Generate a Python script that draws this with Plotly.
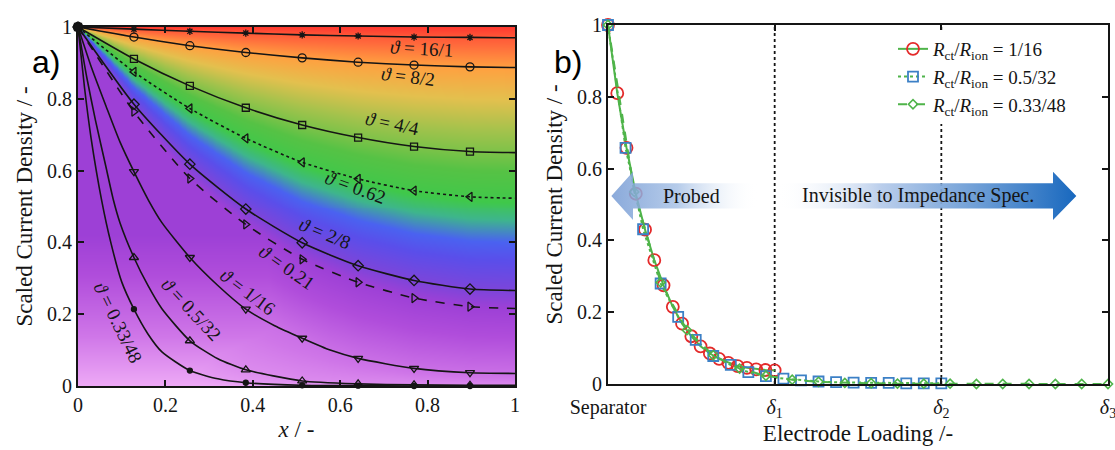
import numpy as np
import plotly.graph_objects as go

# ---------------- panel a: scaled current density vs x ----------------
marker_x = [0.0, 0.128, 0.256, 0.384, 0.513, 0.641, 0.769, 0.897]

x_flat = [0.0, 0.128, 0.256, 0.384, 0.513, 0.641, 0.769, 0.897, 1.0]
y_16_1 = [1.0, 0.994, 0.988, 0.983, 0.978, 0.975, 0.972, 0.971, 0.970]
y_8_2 = [1.0, 0.972, 0.948, 0.929, 0.914, 0.902, 0.894, 0.889, 0.887]
y_4_4 = [1.0, 0.911, 0.836, 0.775, 0.727, 0.692, 0.667, 0.653, 0.650]
y_062 = [1.0, 0.875, 0.773, 0.690, 0.623, 0.577, 0.544, 0.527, 0.523]
y_2_8 = [1.0, 0.785, 0.618, 0.493, 0.399, 0.335, 0.294, 0.270, 0.266]
y_021 = [1.0, 0.764, 0.578, 0.450, 0.353, 0.289, 0.245, 0.221, 0.216]

x_1_16 = [0.0, 0.03, 0.064, 0.096, 0.128, 0.161, 0.192, 0.256, 0.32, 0.384,
          0.45, 0.513, 0.577, 0.641, 0.769, 0.897, 1.0]
y_1_16 = [1.0, 0.89, 0.78, 0.68, 0.597, 0.518, 0.455, 0.358, 0.28, 0.214,
          0.168, 0.133, 0.100, 0.077, 0.049, 0.037, 0.035]

x_05_32 = [0.0, 0.02, 0.04, 0.064, 0.081, 0.096, 0.128, 0.16, 0.192, 0.256,
           0.32, 0.384, 0.513, 0.641, 0.769, 0.897, 1.0]
y_05_32 = [1.0, 0.86, 0.74, 0.61, 0.518, 0.455, 0.358, 0.28, 0.215, 0.126,
           0.076, 0.045, 0.014, 0.006, 0.003, 0.002, 0.002]

x_033_48 = [0.0, 0.015, 0.03, 0.054, 0.075, 0.1, 0.128, 0.16, 0.192, 0.256,
            0.32, 0.384, 0.513, 0.641, 0.769, 0.897, 1.0]
y_033_48 = [1.0, 0.83, 0.69, 0.518, 0.40, 0.29, 0.214, 0.145, 0.095, 0.043,
            0.02, 0.009, 0.002, 0.001, 0.0, 0.0, 0.0]

labels_a = ["16/1", "8/2", "4/4", "0.62", "2/8", "0.21", "1/16", "0.5/32", "0.33/48"]
tick_vals_a = [0, 0.2, 0.4, 0.6, 0.8, 1]
tick_text_a = ["0", "0.2", "0.4", "0.6", "0.8", "1"]

# ---------------- panel b: profiles vs electrode loading ----------------
xb_1_16 = [i / 18 for i in range(19)]
yb_1_16 = [1.0, 0.81, 0.658, 0.53, 0.43, 0.345, 0.275, 0.215, 0.168, 0.133,
           0.105, 0.085, 0.070, 0.059, 0.050, 0.045, 0.041, 0.039, 0.038]
xb_05_32 = [2 * k / 19 for k in range(20)]
yb_05_32 = [1.0, 0.658, 0.431, 0.280, 0.187, 0.123, 0.078, 0.053, 0.033, 0.022,
            0.015, 0.010, 0.007, 0.005, 0.004, 0.003, 0.003, 0.002, 0.002, 0.002]
xb_033_48 = [3 * k / 19 for k in range(20)]
yb_033_48 = [1.0, 0.535, 0.283, 0.150, 0.080, 0.043, 0.023, 0.012, 0.006, 0.003,
             0.002, 0.001, 0.001, 0.001, 0.0, 0.0, 0.0, 0.0, 0.0, 0.0]
legend_b = ["1/16", "0.5/32", "0.33/48"]
tick_vals_b = [0, 1, 2, 3]
tick_text_b = ["Separator", "<i>δ</i><sub>1</sub>", "<i>δ</i><sub>2</sub>", "<i>δ</i><sub>3</sub>"]

SERIF = "Liberation Serif"
INK = "#151515"
GREEN = "#4fb44a"

# style of each panel-a curve: (x, y, dash, symbol, size, label x, label y, angle, colour level)
curves = [
    (x_flat, y_16_1, "solid", "asterisk-open", 6, 0.785, 0.941, 3, 0.96),
    (x_flat, y_8_2, "solid", "circle-open", 8, 0.755, 0.862, 7, 0.88),
    (x_flat, y_4_4, "solid", "square-open", 7, 0.719, 0.730, 12, 0.72),
    (x_flat, y_062, "dot", "triangle-left-open", 8, 0.636, 0.554, 20, 0.62),
    (x_flat, y_2_8, "solid", "diamond-open", 8, 0.566, 0.425, 22, 0.37),
    (x_flat, y_021, "dash", "triangle-right-open", 8, 0.478, 0.329, 35, 0.30),
    (x_1_16, y_1_16, "solid", "triangle-down-open", 8, 0.387, 0.262, 37, 0.12),
    (x_05_32, y_05_32, "solid", "triangle-up-open", 8, 0.259, 0.212, 47, 0.06),
    (x_033_48, y_033_48, "solid", "circle", 5, 0.092, 0.178, 64, 0.03),
]

fig = go.Figure()

# background colour field following the family of curves
gx = np.linspace(0, 1, 181)
gy = np.linspace(0, 1, 181)
Z = np.zeros((gy.size, gx.size))
stack = sorted(curves, key=lambda c: c[8])
levels = [0.0] + [c[8] for c in stack] + [1.0]
for j, xv in enumerate(gx):
    ys = [0.0] + [float(np.interp(xv, c[0], c[1])) for c in stack] + [1.0]
    ys = np.maximum.accumulate(np.array(ys)) + np.arange(len(ys)) * 1e-6
    Z[:, j] = np.interp(gy, ys, levels)
Z = np.maximum(Z, 0.30 * np.clip(gy / 0.42, 0, 1)[:, None])

scale = [
    [0.00, "#eeaaf6"], [0.10, "#cf76e8"], [0.22, "#b04ddb"], [0.30, "#9d40d6"],
    [0.37, "#7c45da"], [0.45, "#5a4eea"], [0.50, "#4a62f0"], [0.56, "#3eb58c"],
    [0.61, "#3fc84a"], [0.68, "#56c245"], [0.76, "#a2c24c"], [0.82, "#e3c04e"],
    [0.88, "#ffa040"], [0.94, "#ff6a3c"], [1.00, "#ff3a30"],
]
fig.add_trace(go.Heatmap(x=gx, y=gy, z=Z, colorscale=scale, zmin=0, zmax=1,
                         zsmooth="best", showscale=False, hoverinfo="skip",
                         xaxis="x", yaxis="y"))

annotations = []
for (cx, cy, dash, sym, size, lx, ly, ang, _), lab in zip(curves, labels_a):
    fig.add_trace(go.Scatter(x=cx, y=cy, mode="lines", line=dict(color=INK, width=1.6, dash=dash, shape="spline", smoothing=0.6),
                             showlegend=False, hoverinfo="skip", xaxis="x", yaxis="y"))
    lookup = dict(zip(cx, cy))
    mx = [v for v in marker_x if v in lookup]
    my = [lookup[v] for v in mx]
    fig.add_trace(go.Scatter(x=mx, y=my, mode="markers", cliponaxis=False,
                             marker=dict(symbol=sym, size=size, color=INK, line=dict(color=INK, width=1.3)),
                             showlegend=False, hoverinfo="skip", xaxis="x", yaxis="y"))
    annotations.append(dict(x=lx, y=ly, xref="x", yref="y", text="<i>ϑ</i> = " + lab,
                            textangle=ang, showarrow=False, font=dict(family=SERIF, size=19, color=INK)))

# panel b series
leg_name = "<i>R</i><sub>ct</sub>/<i>R</i><sub>ion</sub> = "
fig.add_trace(go.Scatter(x=xb_1_16, y=yb_1_16, mode="lines+markers", name=leg_name + legend_b[0],
                         line=dict(color=GREEN, width=2), cliponaxis=False,
                         marker=dict(symbol="circle-open", size=12, color="#e42a2a", line=dict(width=1.8)),
                         xaxis="x2", yaxis="y2"))
fig.add_trace(go.Scatter(x=xb_05_32, y=yb_05_32, mode="lines+markers", name=leg_name + legend_b[1],
                         line=dict(color=GREEN, width=2, dash="dot"), cliponaxis=False,
                         marker=dict(symbol="square-open", size=10, color="#3c80c6", line=dict(width=1.8)),
                         xaxis="x2", yaxis="y2"))
fig.add_trace(go.Scatter(x=xb_033_48, y=yb_033_48, mode="lines+markers", name=leg_name + legend_b[2],
                         line=dict(color=GREEN, width=2, dash="dash"), cliponaxis=False,
                         marker=dict(symbol="diamond-open", size=7, color=GREEN, line=dict(width=1.6)),
                         xaxis="x2", yaxis="y2"))

# gradient arrows
yc, hs, hh = 0.524, 0.035, 0.067
probed_x = [0.02, 0.15, 0.15, 0.90, 0.90, 0.15, 0.15, 0.02]
probed_y = [yc, yc + hh, yc + hs, yc + hs, yc - hs, yc - hs, yc - hh, yc]
fig.add_trace(go.Scatter(x=probed_x, y=probed_y, mode="lines", fill="toself", line=dict(width=0),
                         fillgradient=dict(type="horizontal", colorscale=[
                             [0, "rgba(118,155,212,0.85)"], [0.45, "rgba(168,194,230,0.85)"], [1, "rgba(255,255,255,0)"]]),
                         showlegend=False, hoverinfo="skip", xaxis="x2", yaxis="y2"))
inv_x = [1.01, 2.67, 2.67, 2.81, 2.67, 2.67, 1.01, 1.01]
inv_y = [yc + hs, yc + hs, yc + hh, yc, yc - hh, yc - hs, yc - hs, yc + hs]
fig.add_trace(go.Scatter(x=inv_x, y=inv_y, mode="lines", fill="toself", line=dict(width=0),
                         fillgradient=dict(type="horizontal", colorscale=[
                             [0, "rgba(255,255,255,0)"], [0.35, "rgba(178,200,233,0.9)"], [1, "rgba(24,104,190,1)"]]),
                         showlegend=False, hoverinfo="skip", xaxis="x2", yaxis="y2"))
annotations.append(dict(x=0.50, y=yc, xref="x2", yref="y2", text="Probed", showarrow=False,
                        font=dict(family=SERIF, size=20, color=INK)))
annotations.append(dict(x=1.86, y=yc, xref="x2", yref="y2", text="Invisible to Impedance Spec.", showarrow=False,
                        font=dict(family=SERIF, size=20, color=INK)))

annotations.append(dict(x=30, y=42, xref="paper", yref="paper", text="a)", showarrow=False,
                        font=dict(family="Liberation Sans", size=32, color="black")))
annotations.append(dict(x=568, y=42, xref="paper", yref="paper", text="b)", showarrow=False,
                        font=dict(family="Liberation Sans", size=32, color="black")))
W, H = 1115, 450
for a in annotations:
    if a["xref"] == "paper":
        a["x"] = a["x"] / W
        a["y"] = 1 - a["y"] / H

shapes = [dict(type="line", xref="x2", yref="y2", x0=d, x1=d, y0=0, y1=1, layer="below",
               line=dict(color=INK, width=1.8, dash="dot")) for d in tick_vals_b[1:3]]

axis_common = dict(showline=True, linewidth=2, linecolor=INK, mirror="ticks", ticks="inside",
                   ticklen=6, tickwidth=1.5, tickcolor=INK, showgrid=False, zeroline=False,
                   automargin=False, ticklabeloverflow="allow",
                   tickfont=dict(family=SERIF, size=20, color=INK))
title_font = dict(family=SERIF, size=23, color=INK)

fig.update_layout(
    width=W, height=H, margin=dict(l=0, r=0, t=0, b=0),
    template="none", paper_bgcolor="white", plot_bgcolor="white",
    xaxis=dict(domain=[78 / W, 515 / W], range=[0, 1], tickvals=tick_vals_a, ticktext=tick_text_a,
               title=dict(text="<i>x</i> / -", font=title_font, standoff=6), anchor="y", **axis_common),
    yaxis=dict(domain=[1 - 386 / H, 1 - 27 / H], range=[0, 1], tickvals=tick_vals_a, ticktext=tick_text_a,
               title=dict(text="Scaled Current Density / -", font=title_font, standoff=8), anchor="x", **axis_common),
    xaxis2=dict(domain=[608 / W, 1108 / W], range=[0, 3], tickvals=tick_vals_b, ticktext=tick_text_b,
                ticklabelstandoff=4,
                title=dict(text="Electrode Loading /-", font=title_font, standoff=5), anchor="y2", **axis_common),
    yaxis2=dict(domain=[1 - 384 / H, 1 - 25 / H], range=[0, 1], tickvals=tick_vals_a, ticktext=tick_text_a,
                title=dict(text="Scaled Current Density / -", font=title_font, standoff=8), anchor="x2", **axis_common),
    legend=dict(x=893 / W, y=1 - 30 / H, xanchor="left", yanchor="top", bgcolor="white", borderwidth=0,
                font=dict(family=SERIF, size=19, color=INK), tracegroupgap=0, itemwidth=30),
    annotations=annotations, shapes=shapes,
)

fig.write_html("out.html")
